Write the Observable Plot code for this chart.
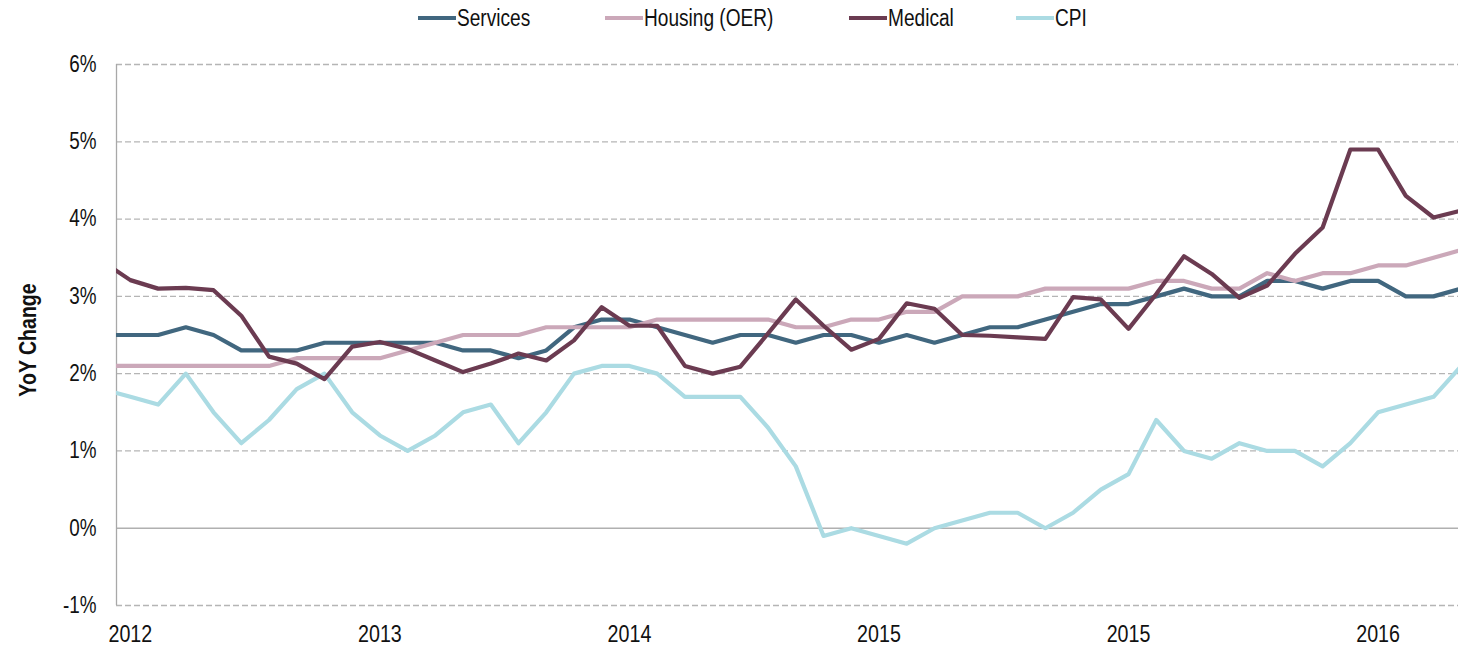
<!DOCTYPE html>
<html>
<head>
<meta charset="utf-8">
<script src="https://cdn.jsdelivr.net/npm/d3@7"></script>
<script src="https://cdn.jsdelivr.net/npm/@observablehq/plot@0.6"></script>
<style>
  html, body { margin: 0; padding: 0; background: #fff; }
  body { width: 1458px; height: 646px; overflow: hidden; font-family: "Liberation Sans Narrow", "Arial Narrow", "Liberation Sans", Arial, sans-serif; }
  #legend { position: relative; height: 40px; width: 1458px; }
  .item { position: absolute; top: 5px; display: flex; align-items: center; font-size: 23px; color: #111; line-height: 26px; white-space: nowrap; }
  .sw { display: inline-block; width: 38px; height: 4px; margin-right: 1px; }
  .tx { display: inline-block; transform: scaleX(0.83); transform-origin: left center; }
  #chart svg { display: block; }
</style>
</head>
<body>
<div id="legend"></div>
<div id="chart"></div>
<script>
// Months (Nov 2012 – Dec 2016)
const months = [
  "2012-11","2012-12",
  "2013-01","2013-02","2013-03","2013-04","2013-05","2013-06","2013-07","2013-08","2013-09","2013-10","2013-11","2013-12",
  "2014-01","2014-02","2014-03","2014-04","2014-05","2014-06","2014-07","2014-08","2014-09","2014-10","2014-11","2014-12",
  "2015-01","2015-02","2015-03","2015-04","2015-05","2015-06","2015-07","2015-08","2015-09","2015-10","2015-11","2015-12",
  "2016-01","2016-02","2016-03","2016-04","2016-05","2016-06","2016-07","2016-08","2016-09","2016-10","2016-11","2016-12"
];

const services = [
  2.5, 2.5,
  2.5, 2.6, 2.5, 2.3, 2.3, 2.3, 2.4, 2.4, 2.4, 2.4, 2.4, 2.3,
  2.3, 2.2, 2.3, 2.6, 2.7, 2.7, 2.6, 2.5, 2.4, 2.5, 2.5, 2.4,
  2.5, 2.5, 2.4, 2.5, 2.4, 2.5, 2.6, 2.6, 2.7, 2.8, 2.9, 2.9,
  3.0, 3.1, 3.0, 3.0, 3.2, 3.2, 3.1, 3.2, 3.2, 3.0, 3.0, 3.1
];
const housing = [
  2.1, 2.1,
  2.1, 2.1, 2.1, 2.1, 2.1, 2.2, 2.2, 2.2, 2.2, 2.3, 2.4, 2.5,
  2.5, 2.5, 2.6, 2.6, 2.6, 2.6, 2.7, 2.7, 2.7, 2.7, 2.7, 2.6,
  2.6, 2.7, 2.7, 2.8, 2.8, 3.0, 3.0, 3.0, 3.1, 3.1, 3.1, 3.1,
  3.2, 3.2, 3.1, 3.1, 3.3, 3.2, 3.3, 3.3, 3.4, 3.4, 3.5, 3.6
];
const medical = [
  3.45, 3.21,
  3.10, 3.11, 3.08, 2.75, 2.22, 2.13, 1.93, 2.35, 2.41, 2.32, 2.17, 2.02,
  2.13, 2.26, 2.17, 2.43, 2.86, 2.62, 2.62, 2.10, 2.00, 2.09, 2.52, 2.96,
  2.62, 2.31, 2.45, 2.91, 2.84, 2.50, 2.49, 2.47, 2.45, 2.99, 2.96, 2.58,
  3.03, 3.52, 3.29, 2.98, 3.14, 3.55, 3.89, 4.90, 4.90, 4.30, 4.02, 4.11
];
const cpi = [
  1.8, 1.7,
  1.6, 2.0, 1.5, 1.1, 1.4, 1.8, 2.0, 1.5, 1.2, 1.0, 1.2, 1.5,
  1.6, 1.1, 1.5, 2.0, 2.1, 2.1, 2.0, 1.7, 1.7, 1.7, 1.3, 0.8,
  -0.1, 0.0, -0.1, -0.2, 0.0, 0.1, 0.2, 0.2, 0.0, 0.2, 0.5, 0.7,
  1.4, 1.0, 0.9, 1.1, 1.0, 1.0, 0.8, 1.1, 1.5, 1.6, 1.7, 2.1
];

const seriesNames = ["Services", "Housing (OER)", "Medical", "CPI"];
const seriesColors = ["#41677f", "#cba8b9", "#6b3b51", "#abdbe3"];
const yTicks = [-1, 0, 1, 2, 3, 4, 5, 6];
const xTickMonths = ["2012-12", "2013-09", "2014-06", "2015-03", "2015-12", "2016-09"];
const xTickLabels = ["2012", "2013", "2014", "2015", "2015", "2016"];
const yLabel = "YoY Change";

// Build table (months indexed so that Dec 2012 = 0)
const valuesBySeries = {"Services": services, "Housing (OER)": housing, "Medical": medical, "CPI": cpi};
const drawOrder = ["Services", "Housing (OER)", "CPI", "Medical"];
const rows = drawOrder.flatMap(name =>
  valuesBySeries[name].map((v, k) => ({series: name, month: months[k], i: k - 1, value: v}))
);
const tickIdx = xTickMonths.map(m => months.indexOf(m) - 1);
const xDomain = [-0.5, 47.9];
const font = '"Liberation Sans Narrow", "Arial Narrow", "Liberation Sans", Arial, sans-serif';

// Legend
const legend = document.getElementById("legend");
const legendLeft = [418, 605, 849, 1016];
seriesNames.forEach((name, k) => {
  const it = document.createElement("div");
  it.className = "item";
  it.style.left = legendLeft[k] + "px";
  const sw = document.createElement("span");
  sw.className = "sw";
  sw.style.background = seriesColors[k];
  const tx = document.createElement("span");
  tx.className = "tx";
  tx.textContent = name;
  it.appendChild(sw); it.appendChild(tx);
  legend.appendChild(it);
});

const chart = Plot.plot({
  width: 1458,
  height: 606,
  marginLeft: 116,
  marginRight: 0,
  marginTop: 24,
  marginBottom: 41,
  style: {fontFamily: font, fontSize: "23px", color: "#111", background: "#fff", overflow: "visible"},
  x: {domain: xDomain, axis: null},
  y: {domain: [-1, 6], axis: null},
  color: {domain: seriesNames, range: seriesColors},
  marks: [
    Plot.ruleY(yTicks.filter(d => d !== 0), {stroke: "#b5b5b5", strokeWidth: 1.3, strokeDasharray: "6,3"}),
    Plot.ruleY([0], {stroke: "#b0b0b0", strokeWidth: 1.5}),
    Plot.ruleX([xDomain[0]], {stroke: "#a8a8a8", strokeWidth: 1.3}),
    Plot.axisY({ticks: yTicks, tickSize: 0, tickPadding: 20, tickFormat: d => d + "%", label: null, fontSize: 23, className: "narrow"}),
    Plot.axisX({ticks: tickIdx, tickSize: 0, tickPadding: 19, tickFormat: d => xTickLabels[tickIdx.indexOf(d)], label: null, fontSize: 24, className: "narrow"}),
    Plot.line(rows, {x: "i", y: "value", z: "series", stroke: "series", strokeWidth: 4.2, clip: true}),
    Plot.text([yLabel], {frameAnchor: "left", textAnchor: "middle", rotate: -90, dx: -88, dy: 5, fontWeight: "bold", fontSize: 23, className: "narrowlabel"})
  ]
});
document.getElementById("chart").appendChild(chart);

// Emulate a condensed face (no narrow font installed): compress text horizontally around its anchor.
function condense(sel, s) {
  chart.querySelectorAll(sel).forEach(t => {
    const tr = t.getAttribute("transform") || "";
    t.setAttribute("transform", tr + ` scale(${s},1)`);
  });
}
condense(".narrow text", 0.82);
condense(".narrowlabel text", 0.85);
</script>
</body>
</html>
